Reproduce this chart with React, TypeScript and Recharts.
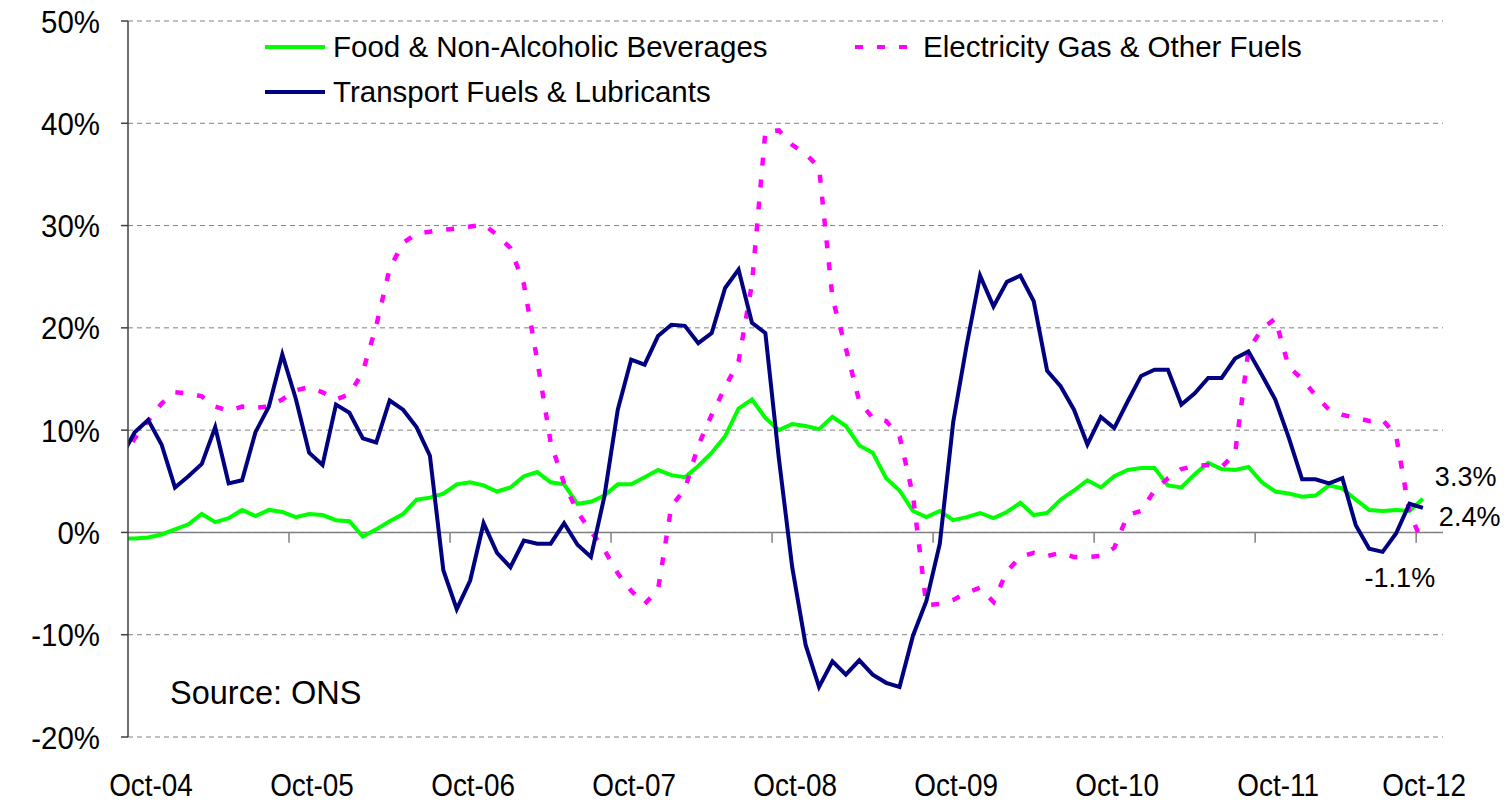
import { LineChart, Line, XAxis, YAxis, CartesianGrid, ReferenceLine, Legend } from 'recharts';

const FONT = '"Liberation Sans", Arial, sans-serif';

// x axis runs in months from 1 Oct 2004; each monthly value sits mid-month
const xTickLabels = ['Oct-04', 'Oct-05', 'Oct-06', 'Oct-07', 'Oct-08', 'Oct-09', 'Oct-10', 'Oct-11', 'Oct-12'];
const xTicks = xTickLabels.map((_, i) => i * 12);
const yTicks = [-20, -10, 0, 10, 20, 30, 40, 50];

// annual % change, Sep-04 .. Oct-12 (Sep-04 falls left of the axis and is clipped)
const food = [
  -0.6,
  -0.6, -0.5, -0.2, 0.3, 0.8, 1.8, 1.0, 1.4, 2.2, 1.6, 2.2, 2.0,
  1.5, 1.8, 1.7, 1.2, 1.1, -0.4, 0.3, 1.1, 1.8, 3.2, 3.4, 3.8,
  4.7, 4.9, 4.6, 4.0, 4.4, 5.5, 5.9, 4.9, 4.7, 2.8, 3.0, 3.6,
  4.7, 4.7, 5.4, 6.1, 5.6, 5.4, 6.5, 7.8, 9.4, 12.1, 13.0, 11.2,
  10.0, 10.6, 10.4, 10.1, 11.3, 10.4, 8.5, 7.8, 5.3, 4.1, 2.1, 1.5,
  2.1, 1.2, 1.5, 1.9, 1.4, 2.0, 2.9, 1.7, 1.9, 3.2, 4.1, 5.1,
  4.4, 5.5, 6.1, 6.3, 6.3, 4.6, 4.4, 5.7, 6.8, 6.2, 6.1, 6.4,
  4.9, 4.0, 3.8, 3.5, 3.6, 4.6, 4.3, 3.2, 2.2, 2.1, 2.2, 2.1,
  3.3,
];

const electricity = [
  7.0,
  9.2, 10.9, 12.6, 13.7, 13.6, 13.3, 12.3, 11.9, 12.3, 12.2, 12.3, 13.0,
  13.9, 14.2, 13.7, 13.0, 13.5, 15.7, 20.2, 25.8, 28.3, 29.2, 29.4, 29.6,
  29.7, 29.9, 30.1, 29.1, 27.8, 24.3, 16.8, 8.8, 4.8, 2.0, 0.1, -1.7,
  -4.0, -5.7, -7.0, -5.6, 2.6, 4.2, 8.5, 11.5, 14.2, 16.7, 24.3, 39.2,
  39.3, 37.9, 37.0, 35.7, 22.9, 18.0, 12.8, 11.2, 10.9, 9.4, 3.6, -7.1,
  -7.0, -6.6, -5.9, -5.4, -6.8, -3.8, -2.4, -2.0, -2.3, -2.0, -2.4, -2.4,
  -2.3, -1.5, 1.7, 2.1, 4.1, 5.3, 6.2, 6.5, 6.6, 6.4, 7.7, 17.8,
  19.9, 20.9, 16.2, 15.0, 13.4, 12.0, 11.5, 11.2, 10.9, 11.0, 9.5, 2.0,
  -1.1,
];

const transport = [
  7.4,
  9.8, 11.0, 8.6, 4.4, 5.5, 6.7, 10.3, 4.8, 5.1, 9.8, 12.3, 17.4,
  13.1, 7.8, 6.6, 12.5, 11.7, 9.2, 8.8, 12.9, 12.0, 10.3, 7.5, -3.7,
  -7.5, -4.7, 0.9, -2.0, -3.4, -0.8, -1.1, -1.1, 0.9, -1.2, -2.4, 3.5,
  12.0, 16.9, 16.4, 19.2, 20.3, 20.2, 18.5, 19.5, 23.9, 25.7, 20.5, 19.5,
  7.3, -3.4, -11.0, -15.1, -12.6, -13.9, -12.5, -13.9, -14.7, -15.1, -10.1, -6.7,
  -1.1, 10.8, 18.3, 25.1, 22.1, 24.5, 25.1, 22.6, 15.8, 14.3, 12.0, 8.6,
  11.3, 10.2, 12.8, 15.3, 15.9, 15.9, 12.5, 13.6, 15.1, 15.1, 17.0, 17.7,
  15.4, 13.0, 9.3, 5.2, 5.2, 4.8, 5.3, 0.7, -1.6, -1.9, -0.1, 2.8,
  2.4,
];

const data = food.map((v, i) => ({
  month: i - 0.5,
  food: v,
  electricity: electricity[i],
  transport: transport[i],
}));

const LAST = food.length - 1;

const series = [
  { key: 'food', name: 'Food & Non-Alcoholic Beverages', color: '#00FF00', dash: undefined, left: 265, top: 47 },
  { key: 'electricity', name: 'Electricity Gas & Other Fuels', color: '#FF00FF', dash: '8 14', left: 855, top: 47 },
  { key: 'transport', name: 'Transport Fuels & Lubricants', color: '#000080', dash: undefined, left: 265, top: 92 },
];

// the original's axis text is a little narrow for its height
function MonthTick({ x, y, payload }: any) {
  const last = payload.value === xTicks[xTicks.length - 1];
  return (
    <g transform={`translate(${x + (last ? 8 : 23)},${y + 59}) scale(0.9,1)`}>
      <text x={0} y={0} textAnchor="middle" fontSize={31} fontFamily={FONT} fill="#000">
        {xTickLabels[payload.value / 12]}
      </text>
    </g>
  );
}

function PercentTick({ x, y, payload }: any) {
  return (
    <g transform={`translate(${x},${y}) scale(0.92,1)`}>
      <text x={0} y={0} dy="0.36em" textAnchor="end" fontSize={32} fontFamily={FONT} fill="#000">
        {`${payload.value}%`}
      </text>
    </g>
  );
}

function endLabel(values: number[], dx: number, dy: number, anchor: string) {
  return (props: any) => {
    if (props.index !== LAST) return null;
    return (
      <text x={props.x + dx} y={props.y + dy} textAnchor={anchor} fontSize={27} fontFamily={FONT} fill="#000">
        {values[LAST].toFixed(1)}%
      </text>
    );
  };
}

function LegendBox() {
  return (
    <div style={{ position: 'relative', width: 1509, height: 120, fontFamily: FONT }}>
      {series.map((s) => (
        <div
          key={s.key}
          style={{ position: 'absolute', left: s.left, top: s.top - 18, height: 36, display: 'flex', alignItems: 'center' }}
        >
          <svg width={62} height={8} style={{ marginRight: 6 }}>
            <line x1={0} y1={4} x2={60} y2={4} stroke={s.color} strokeWidth={4} strokeDasharray={s.dash} />
          </svg>
          <span style={{ fontSize: 29.5, color: '#000', whiteSpace: 'nowrap' }}>{s.name}</span>
        </div>
      ))}
    </div>
  );
}

export default function App() {
  return (
    <div style={{ position: 'absolute', left: 0, top: 0, width: 1509, height: 808, background: '#fff' }}>
      <LineChart width={1509} height={808} data={data} margin={{ top: 21, right: 66, left: 0, bottom: 0 }}>
        <CartesianGrid vertical={false} stroke="#808080" strokeDasharray="5 4" />
        <XAxis
          dataKey="month"
          type="number"
          domain={[0, 98]}
          ticks={xTicks}
          allowDataOverflow
          axisLine={false}
          tickLine={false}
          tickSize={0}
          tickMargin={0}
          height={71}
          interval={0}
          tick={<MonthTick />}
        />
        <YAxis
          domain={[-20, 50]}
          ticks={yTicks}
          width={128}
          allowDataOverflow
          axisLine={{ stroke: '#404040', strokeWidth: 1.5 }}
          tickLine={{ stroke: '#404040', strokeWidth: 1.5 }}
          tickSize={7}
          tickMargin={21}
          tick={<PercentTick />}
        />
        <ReferenceLine y={0} stroke="#808080" strokeWidth={1.5} />
        {xTicks.slice(1).map((t) => (
          <ReferenceLine
            key={t}
            segment={[{ x: t, y: 0 }, { x: t, y: -1 }]}
            stroke="#808080"
            strokeWidth={1.5}
          />
        ))}
        <Legend
          layout="horizontal"
          verticalAlign="middle"
          content={<LegendBox />}
          wrapperStyle={{ top: 0, left: 0, width: 1509, height: 120 }}
        />
        <Line
          dataKey="food"
          name={series[0].name}
          stroke="#00FF00"
          strokeWidth={4}
          dot={false}
          isAnimationActive={false}
          label={endLabel(food, 12, -13, 'start')}
        />
        <Line
          dataKey="electricity"
          name={series[1].name}
          stroke="#FF00FF"
          strokeWidth={4.5}
          strokeDasharray="8 14"
          dot={false}
          isAnimationActive={false}
          label={endLabel(electricity, -23, 43, 'middle')}
        />
        <Line
          dataKey="transport"
          name={series[2].name}
          stroke="#000080"
          strokeWidth={4}
          dot={false}
          isAnimationActive={false}
          label={endLabel(transport, 16, 18, 'start')}
        />
      </LineChart>
      <div style={{ position: 'absolute', left: 170, top: 675, fontSize: 32.5, fontFamily: FONT, color: '#000' }}>
        Source: ONS
      </div>
    </div>
  );
}
